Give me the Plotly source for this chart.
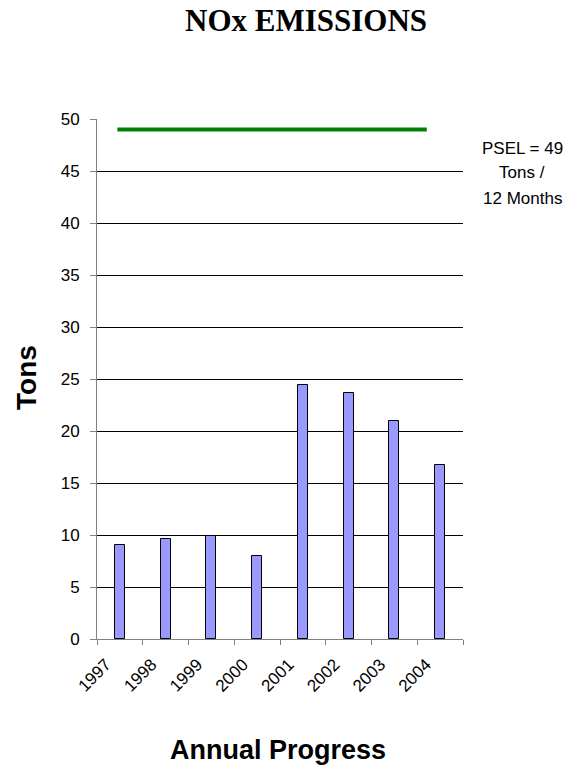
import plotly.graph_objects as go

# Annual NOx emissions (tons) against the permitted limit
years = ["1997", "1998", "1999", "2000", "2001", "2002", "2003", "2004"]
nox_tons = [9.0, 9.6, 9.9, 8.0, 24.4, 23.7, 21.0, 16.7]
psel_limit = [49, 49, 49, 49, 49, 49, 49, 49]
psel_positions = list(range(len(years)))
psel_note = ["PSEL = 49", "Tons /", "12 Months"]

W, H = 582, 770
L, R, T, B = 97, 119, 119, 131
PW, PH = W - L - R, H - T - B


def px(x):
    # figure pixel x -> plot-area paper fraction
    return (x - L) / PW


def py(y):
    # figure pixel y -> plot-area paper fraction
    return (H - B - y) / PH


fig = go.Figure()

fig.add_trace(go.Bar(
    x=years, y=nox_tons, width=0.22,
    marker=dict(color="#9999FF", line=dict(color="#000000", width=1)),
    showlegend=False, hoverinfo="x+y",
))

# PSEL limit line on an overlaid hidden axis
fig.add_trace(go.Scatter(
    x=psel_positions, y=psel_limit, xaxis="x2", mode="lines",
    line=dict(color="#008000", width=4),
    showlegend=False, hoverinfo="y",
))

tick_font = dict(family="Liberation Sans, Arial, sans-serif", size=17, color="#000000")
note_font = dict(family="Liberation Sans, Arial, sans-serif", size=17, color="#000000")

annotations = [
    dict(text="<b>NOx EMISSIONS</b>", x=px(306), y=py(20),
         xref="paper", yref="paper", showarrow=False,
         xanchor="center", yanchor="middle",
         font=dict(family="Liberation Serif, Times New Roman, serif", size=31, color="#000000")),
    dict(text="<b>Tons</b>", x=px(26), y=py(378),
         xref="paper", yref="paper", showarrow=False, textangle=-90,
         xanchor="center", yanchor="middle",
         font=dict(family="Liberation Sans, Arial, sans-serif", size=28, color="#000000")),
    dict(text="<b>Annual Progress</b>", x=px(278), y=py(750),
         xref="paper", yref="paper", showarrow=False,
         xanchor="center", yanchor="middle",
         font=dict(family="Liberation Sans, Arial, sans-serif", size=27, color="#000000")),
]
# limit note, one line per annotation for wider line spacing
for i, line in enumerate(psel_note):
    annotations.append(dict(
        text=line, x=px(522), y=py(148 + 25 * i),
        xref="paper", yref="paper", showarrow=False,
        xanchor="center", yanchor="middle", font=note_font,
    ))

fig.update_layout(
    width=W, height=H,
    margin=dict(l=L, r=R, t=T, b=B),
    paper_bgcolor="#FFFFFF", plot_bgcolor="#FFFFFF",
    bargap=0,
    xaxis=dict(
        type="category", tickson="boundaries", ticks="outside", ticklen=5,
        tickcolor="#808080", showline=True, linecolor="#808080", linewidth=1,
        showgrid=False, tickangle=-45, tickfont=tick_font,
        ticklabelstandoff=8, ticklabelshift=-14,
        range=[-0.5, 7.5], fixedrange=True,
    ),
    xaxis2=dict(
        overlaying="x", range=[-0.46, 7.82], visible=False, fixedrange=True,
    ),
    yaxis=dict(
        range=[0, 50], dtick=5, tick0=0, ticks="outside", ticklen=6,
        tickcolor="#808080", showline=True, linecolor="#808080", linewidth=1,
        showgrid=True, gridcolor="#000000", gridwidth=1, zeroline=False,
        tickfont=tick_font, ticklabelstandoff=7, fixedrange=True,
    ),
    annotations=annotations,
)

fig.write_html("out.html")
